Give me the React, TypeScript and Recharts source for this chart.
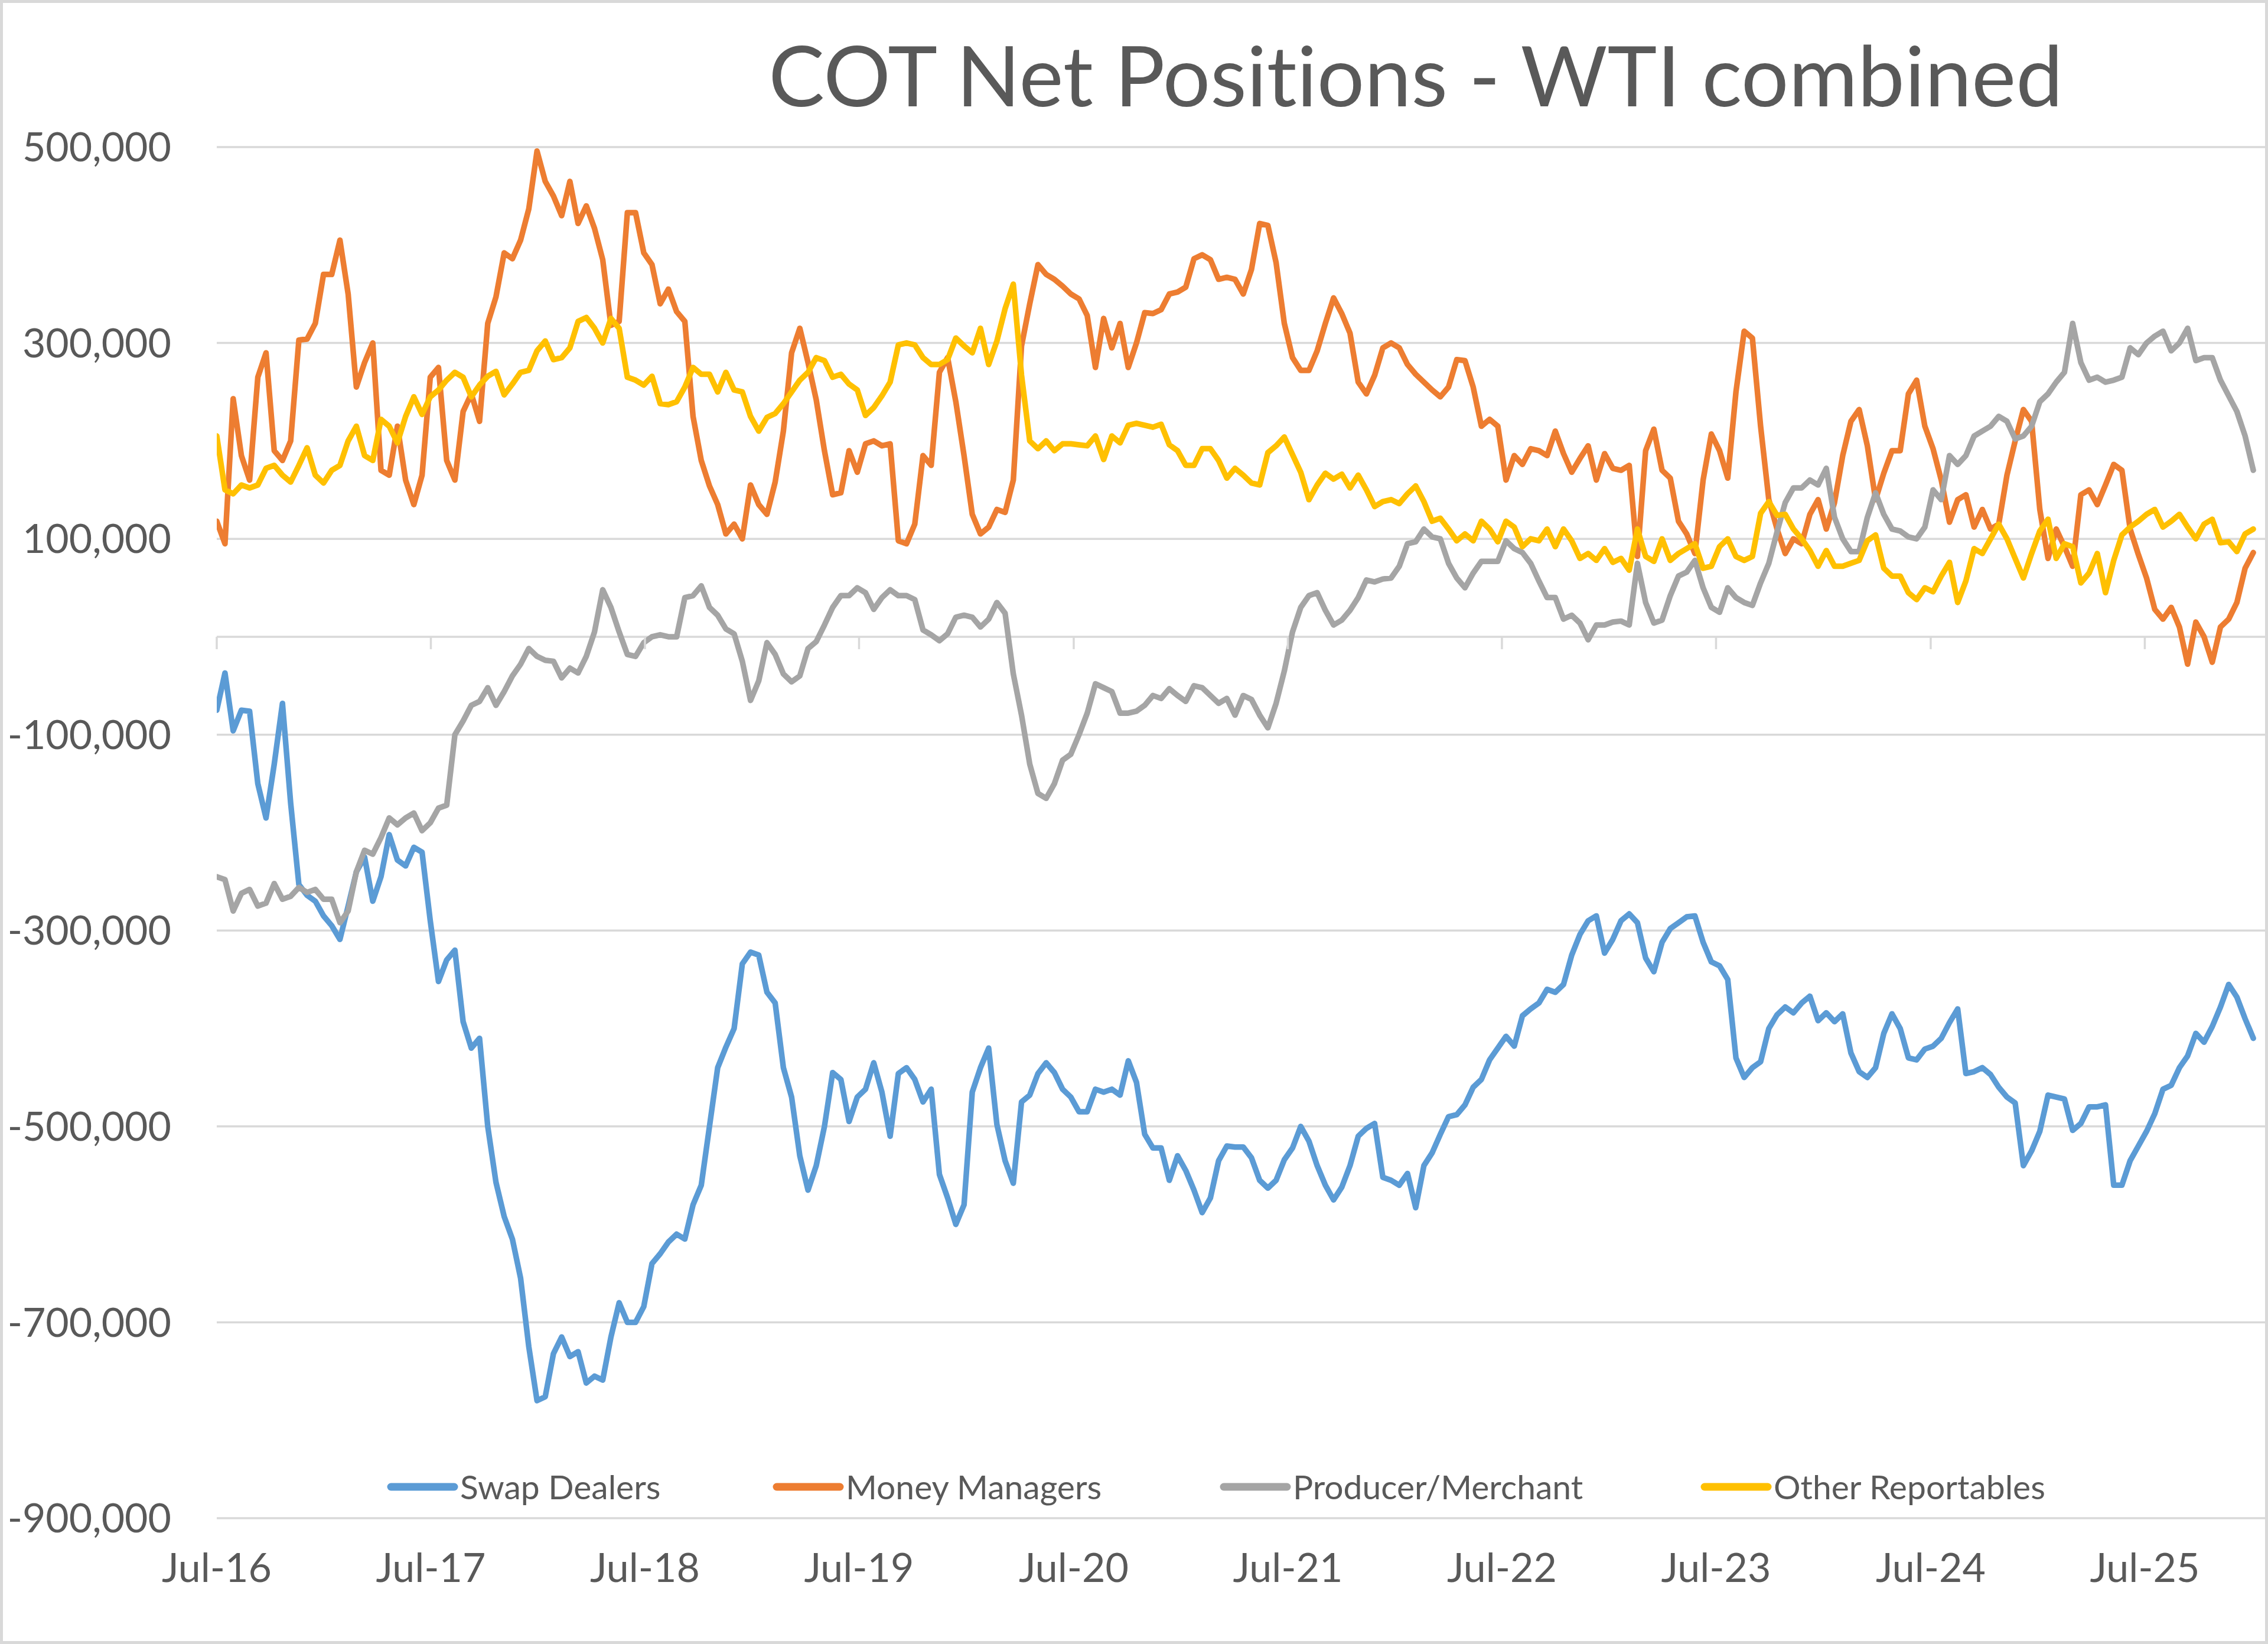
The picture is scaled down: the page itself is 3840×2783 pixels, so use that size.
import { LineChart, Line, XAxis, YAxis, CartesianGrid, Legend, ReferenceLine } from 'recharts';

// COT net positions, WTI combined, in thousands of contracts, one value every 2 weeks from Jul-16
const SWAP_DEALERS = [
  -75, -37, -96, -75, -76, -150, -185, -130, -68, -170, -253, -264, -270,
  -285, -295, -309, -275, -240, -225, -270, -245, -202, -228, -234, -215, -220,
  -290, -352, -330, -320, -393, -420, -410, -500, -557, -592, -615, -655, -725,
  -780, -776, -732, -715, -735, -730, -762, -755, -759, -715, -680, -700, -700,
  -684, -640, -630, -618, -610, -615, -580, -560, -500, -440, -419, -400, -334,
  -322, -325, -363, -374, -440, -470, -530, -565, -540, -500, -445, -452, -495,
  -470, -462, -435, -465, -510, -446, -440, -452, -475, -462, -549, -573, -600,
  -580, -465, -440, -420, -498, -535, -558, -475, -468, -446, -435, -445, -462,
  -470, -485, -485, -462, -465, -462, -468, -433, -455, -508, -522, -522, -555,
  -530, -545, -565, -588, -573, -535, -520, -521, -521, -532, -555, -563, -555,
  -534, -522, -500, -515, -540, -560, -575, -562, -540, -510, -502, -497, -552,
  -555, -560, -548, -583, -540, -527, -508, -490, -488, -478, -460, -452, -432,
  -420, -408, -418, -387, -380, -374, -360, -363, -355, -325, -304, -290, -285,
  -323, -309, -290, -283, -292, -328, -342, -312, -298, -292, -286, -285, -312,
  -332, -336, -350, -430, -450, -440, -434, -400, -386, -378, -384, -374, -367,
  -392, -384, -393, -385, -425, -444, -450, -440, -405, -385, -400, -430, -432,
  -421, -418, -410, -394, -380, -446, -444, -440, -447, -460, -470, -476, -540,
  -525, -505, -468, -470, -472, -504, -497, -480, -480, -478, -560, -560, -535,
  -520, -505, -487, -462, -458, -440, -428, -405, -414, -398, -378, -355, -368,
  -390, -410,
];

const MONEY_MANAGERS = [
  118, 95, 243, 185, 160, 265, 290, 190, 180, 200, 303, 304, 320,
  370, 370, 405, 350, 255, 280, 300, 170, 165, 215, 160, 135, 165,
  265, 275, 180, 160, 230, 248, 220, 320, 347, 392, 386, 405, 437,
  496, 465, 450, 430, 465, 422, 440, 417, 385, 318, 322, 433, 433,
  392, 380, 340, 355, 332, 322, 225, 180, 154, 135, 105, 115, 100,
  155, 135, 125, 158, 210, 290, 315, 280, 242, 190, 145, 147, 190,
  168, 197, 200, 195, 197, 98, 95, 115, 185, 175, 270, 285, 240,
  185, 125, 105, 112, 130, 127, 160, 297, 340, 380, 370, 365, 358,
  350, 345, 328, 275, 325, 295, 320, 275, 300, 331, 330, 334, 350,
  352, 357, 386, 390, 385, 365, 367, 365, 350, 375, 422, 420, 382,
  320, 285, 272, 272, 292, 320, 346, 330, 310, 260, 248, 267, 295,
  300, 295, 278, 268, 260, 252, 245, 255, 283, 282, 255, 215, 222,
  215, 160, 185, 176, 192, 190, 185, 210, 187, 168, 182, 195, 160,
  187, 172, 170, 175, 82, 190, 212, 170, 162, 118, 105, 85, 160,
  207, 190, 162, 250, 312, 305, 215, 140, 110, 85, 100, 95, 125,
  140, 110, 137, 185, 220, 232, 195, 140, 167, 190, 190, 248, 262,
  215, 192, 160, 117, 140, 145, 112, 130, 110, 115, 165, 200, 232,
  220, 130, 80, 110, 92, 72, 145, 150, 135, 155, 176, 170, 110,
  84, 60, 28, 18, 30, 10, -28, 15, 0, -26, 10, 18, 35,
  70, 86,
];

const PRODUCER_MERCHANT = [
  -245, -248, -280, -262, -258, -275, -272, -252, -268, -265, -256, -261, -258,
  -268, -268, -292, -280, -240, -218, -222, -205, -185, -192, -185, -180, -198,
  -190, -175, -172, -100, -86, -70, -66, -52, -70, -56, -40, -28, -12,
  -20, -24, -25, -42, -32, -37, -20, 5, 48, 30, 5, -18, -20,
  -6, 0, 2, 0, 0, 40, 42, 52, 30, 22, 8, 3, -25,
  -65, -45, -6, -18, -38, -46, -40, -12, -5, 12, 30, 42, 42,
  50, 45, 28, 40, 48, 42, 42, 38, 7, 2, -4, 3, 20,
  22, 20, 10, 18, 35, 24, -38, -80, -130, -160, -165, -150, -126,
  -120, -100, -78, -48, -52, -56, -78, -78, -76, -70, -60, -63, -53,
  -60, -66, -50, -52, -60, -68, -63, -80, -60, -64, -80, -93, -68,
  -35, 5, 30, 42, 45, 27, 12, 17, 27, 40, 58, 56, 59,
  60, 72, 95, 97, 110, 102, 100, 75, 60, 50, 65, 77, 77,
  77, 98, 90, 86, 75, 57, 40, 40, 18, 22, 14, -3, 12,
  12, 15, 16, 12, 75, 35, 14, 17, 42, 62, 66, 78, 50,
  30, 25, 50, 40, 35, 32, 55, 75, 107, 137, 152, 152, 160,
  155, 172, 122, 100, 87, 87, 122, 147, 125, 110, 108, 102, 100,
  112, 150, 140, 185, 176, 185, 205, 210, 215, 225, 220, 202, 205,
  215, 240, 248, 260, 270, 320, 280, 262, 265, 260, 262, 265, 295,
  288, 300, 307, 312, 292, 300, 315, 282, 285, 285, 262, 246, 230,
  205, 170,
];

const OTHER_REPORTABLES = [
  205, 150, 146, 155, 152, 155, 172, 175, 165, 158, 175, 193, 165,
  157, 170, 175, 200, 215, 185, 180, 222, 215, 198, 225, 245, 227,
  245, 252, 262, 270, 265, 245, 257, 266, 271, 247, 258, 270, 272,
  292, 302, 283, 285, 295, 322, 326, 315, 300, 325, 315, 265, 262,
  257, 266, 238, 237, 240, 255, 275, 268, 268, 250, 270, 252, 250,
  225, 210, 224, 228, 238, 250, 262, 270, 285, 282, 265, 268, 258,
  252, 226, 234, 246, 260, 298, 300, 298, 285, 278, 278, 283, 305,
  297, 290, 315, 278, 302, 335, 360, 267, 200, 192, 200, 190, 197,
  197, 196, 195, 205, 181, 205, 198, 216, 218, 216, 214, 217, 196,
  190, 175, 175, 192, 192, 180, 162, 172, 165, 157, 155, 188, 195,
  204, 186, 168, 140, 155, 167, 161, 166, 152, 165, 150, 133, 138,
  140, 136, 146, 154, 138, 118, 121, 110, 98, 105, 98, 118, 110,
  97, 118, 112, 92, 100, 98, 110, 92, 110, 98, 80, 85, 78,
  90, 76, 80, 68, 110, 82, 77, 100, 78, 85, 90, 95, 70,
  72, 92, 100, 82, 78, 82, 126, 138, 124, 125, 110, 100, 88,
  72, 88, 72, 72, 75, 78, 98, 104, 70, 62, 62, 45, 38,
  50, 46, 62, 76, 35, 57, 90, 85, 100, 115, 100, 80, 60,
  85, 108, 120, 80, 95, 92, 55, 65, 85, 45, 78, 104, 112,
  118, 125, 130, 112, 118, 125, 112, 100, 115, 120, 96, 97, 87,
  105, 110,
];

const TICK_YEARS = [2016, 2017, 2018, 2019, 2020, 2021, 2022, 2023, 2024, 2025];
const Y_TICKS = [-900, -700, -500, -300, -100, 100, 300, 500];

const SERIES = [
  { key: 'swap', name: 'Swap Dealers', color: '#5B9BD5', values: SWAP_DEALERS },
  { key: 'money', name: 'Money Managers', color: '#ED7D31', values: MONEY_MANAGERS },
  { key: 'producer', name: 'Producer/Merchant', color: '#A5A5A5', values: PRODUCER_MERCHANT },
  { key: 'other', name: 'Other Reportables', color: '#FFC000', values: OTHER_REPORTABLES },
];

const DAY = 86400000;
const START = Date.UTC(2016, 6, 5);
const X_END = START + 3492 * DAY;
const X_TICKS = TICK_YEARS.map((y) => Date.UTC(y, 6, 5));

const data = SWAP_DEALERS.map((_, i) => {
  const row: any = { t: START + i * 14 * DAY };
  SERIES.forEach((s) => { row[s.key] = s.values[i]; });
  return row;
});

// layout (pixels inside the 5px frame)
const W = 3830;
const H = 2773;
const PLOT_TOP = 244;
const PLOT_BOTTOM = 2565;
const ZERO_Y = PLOT_TOP + ((PLOT_BOTTOM - PLOT_TOP) * 500) / 1400;
const TEXT = '#595959';
const GRID = '#d9d9d9';
const FONT = 'Lato, "Open Sans", sans-serif';
const LEGEND_X = [650, 1303, 2060, 2874];
const LEGEND_Y = 2512;

const fmtY = (v: number) => (v * 1000).toLocaleString('en-US');

function XTick(props: any) {
  const { x, y, payload } = props;
  const yr = new Date(payload.value).getUTCFullYear();
  return (
    <g>
      <line x1={x} x2={x} y1={ZERO_Y} y2={ZERO_Y + 21} stroke={GRID} strokeWidth={3.5} />
      <text x={x} y={y + 108} textAnchor="middle" fill={TEXT} fontSize={68} fontFamily={FONT}>
        {`Jul-${String(yr).slice(2)}`}
      </text>
    </g>
  );
}

function LegendContent() {
  return (
    <svg width={W} height={80} style={{ display: 'block' }}>
      {SERIES.map((s, i) => (
        <g key={s.key}>
          <line x1={LEGEND_X[i] + 7} x2={LEGEND_X[i] + 114} y1={40} y2={40}
            stroke={s.color} strokeWidth={13} strokeLinecap="round" />
          <text x={LEGEND_X[i] + 124} y={61} fill={TEXT} fontSize={57} fontFamily={FONT}>{s.name}</text>
        </g>
      ))}
    </svg>
  );
}

export default function App() {
  return (
    <div style={{ position: 'absolute', left: 0, top: 0, width: 3840, height: 2783, boxSizing: 'border-box',
      border: `5px solid ${GRID}`, background: '#fff', overflow: 'hidden' }}>
      <svg width={W} height={230} style={{ position: 'absolute', left: 0, top: 0 }}>
        <text x={2392} y={175} textAnchor="middle" fill={TEXT} fontSize={142} fontFamily={FONT}
          style={{ fontVariantLigatures: 'none' }}>
          COT Net Positions - WTI combined
        </text>
      </svg>
      <LineChart width={W} height={H} data={data} margin={{ top: PLOT_TOP, right: 0, left: 62, bottom: 108 }}>
        <CartesianGrid vertical={false} stroke={GRID} strokeWidth={3.5} />
        <XAxis dataKey="t" type="number" domain={[START, X_END]} ticks={X_TICKS} interval={0}
          axisLine={false} tickLine={false} tickSize={0} tickMargin={0} height={100}
          tick={(p: any) => <XTick {...p} />} allowDataOverflow />
        <YAxis domain={[-900, 500]} ticks={Y_TICKS} interval={0} width={300}
          axisLine={false} tickLine={false} tickSize={0} tickMargin={77} tickFormatter={fmtY}
          tick={{ fill: TEXT, fontSize: 68, fontFamily: FONT }} allowDataOverflow />
        <ReferenceLine y={0} stroke={GRID} strokeWidth={3.5} />
        {SERIES.map((s) => (
          <Line key={s.key} dataKey={s.key} name={s.name} stroke={s.color} strokeWidth={9.5}
            dot={false} type="linear" strokeLinejoin="round" strokeLinecap="round"
            isAnimationActive={false} />
        ))}
        <Legend verticalAlign="middle" align="center" layout="horizontal"
          wrapperStyle={{ left: 0, top: LEGEND_Y - 40, width: W, height: 80 }}
          content={() => <LegendContent />} />
      </LineChart>
    </div>
  );
}
